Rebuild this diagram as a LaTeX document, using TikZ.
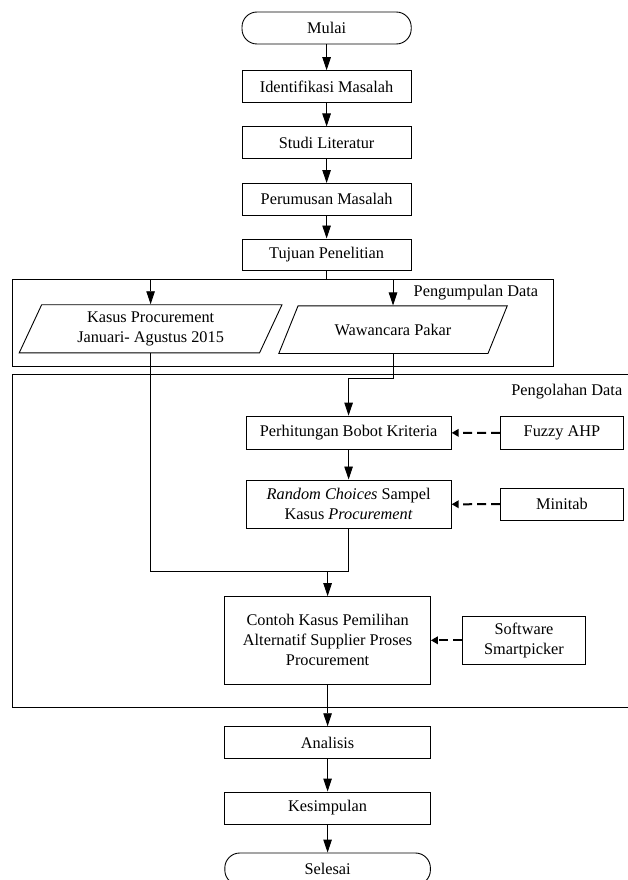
\documentclass[tikz,border=0pt]{standalone}
\usepackage{fontspec}
\setmainfont{Liberation Serif}
\usetikzlibrary{arrows.meta,shapes.geometric}

\begin{document}
\begin{tikzpicture}[x=1pt,y=-1pt,line width=0.9pt,
    font=\fontsize{16.3}{20}\selectfont,
    box/.style={draw,rectangle,inner sep=0pt,align=center,minimum height=31.7pt},
    ends/.style={box,rounded corners=15pt,minimum height=32pt},
    para/.style={draw,trapezium,trapezium stretches body=true,inner xsep=0pt,align=center},
    arr/.style={-{Triangle[width=8.5pt,length=13pt]}},
    dasharr/.style={-{Triangle[width=7.5pt,length=7pt]},line width=2pt,dash pattern=on 9pt off 5pt}]
    \useasboundingbox (0,0) rectangle (627,880);
    \draw (12,279.3) rectangle (553.2,366.7);
    \draw (12,374.7) rectangle (640,707.3);
    \node[anchor=east] (lblkumpul) at (542,292.7) {Pengumpulan Data};
    \node[anchor=east] (lblolah) at (626,392) {Pengolahan Data};
    \node[ends,minimum width=169.2pt] (mulai) at (326.6,28) {Mulai};
    \node[box,minimum width=169.2pt] (identifikasi) at (326.6,86.5) {Identifikasi Masalah};
    \node[box,minimum width=169.2pt] (studi) at (326.6,142.8) {Studi Literatur};
    \node[box,minimum width=169.2pt] (perumusan) at (326.6,199.3) {Perumusan Masalah};
    \node[box,minimum width=169.2pt] (tujuan) at (326.6,254.8) {Tujuan Penelitian};
    \node[para,trapezium left angle=65,trapezium right angle=115,minimum width=262.8pt,inner ysep=7pt] (kasus) at (150.6,328.8) {Kasus Procurement\\Januari- Agustus 2015};
    \node[para,trapezium left angle=68,trapezium right angle=112,minimum width=228.4pt,inner ysep=18pt] (wawancara) at (393,329.7) {Wawancara Pakar};
    \node[box,minimum width=205.2pt,minimum height=33.3pt] (perhitungan) at (348.6,432.7) {Perhitungan Bobot Kriteria};
    \node[box,minimum width=123pt,minimum height=32.3pt] (fuzzy) at (562,433) {Fuzzy AHP};
    \node[box,minimum width=205.2pt,minimum height=48.7pt] (random) at (348.6,504.3) {\textit{Random Choices} Sampel\\Kasus \textit{Procurement}};
    \node[box,minimum width=123pt] (minitab) at (562,504.2) {Minitab};
    \node[box,minimum width=205.6pt,minimum height=87.3pt] (contoh) at (327.6,640.3) {Contoh Kasus Pemilihan\\Alternatif Supplier Proses\\Procurement};
    \node[box,minimum width=123.2pt,minimum height=47.3pt] (software) at (524,640.3) {Software\\Smartpicker};
    \node[box,minimum width=205.6pt,minimum height=32pt] (analisis) at (327.6,742.7) {Analisis};
    \node[box,minimum width=205.6pt,minimum height=32pt] (kesimpulan) at (327.6,808) {Kesimpulan};
    \node[ends,minimum width=205.6pt] (selesai) at (327.6,869) {Selesai};
    \coordinate (bagi) at (326.6,279.3);
    \coordinate (gabung) at (327.6,571.7);
    \draw[arr] (mulai) -- (identifikasi);
    \draw[arr] (identifikasi) -- (studi);
    \draw[arr] (studi) -- (perumusan);
    \draw[arr] (perumusan) -- (tujuan);
    \draw (tujuan) -- (bagi);
    \draw[arr] (bagi) -| (kasus.north);
    \draw[arr] (bagi) -| (wawancara.north);
    \draw[arr] (wawancara.south) -- ++(0,25) -| (perhitungan.north);
    \draw[arr] (perhitungan) -- (random);
    \draw (random.south) |- (gabung);
    \draw (kasus.south) |- (gabung);
    \draw[arr] (gabung) -- (contoh.north);
    \draw[dasharr] (fuzzy) -- (perhitungan);
    \draw[dasharr] (minitab) -- (random);
    \draw[dasharr] (software) -- (contoh);
    \draw[arr] (contoh) -- (analisis);
    \draw[arr] (analisis) -- (kesimpulan);
    \draw[arr] (kesimpulan) -- (selesai);
\end{tikzpicture}
\end{document}
